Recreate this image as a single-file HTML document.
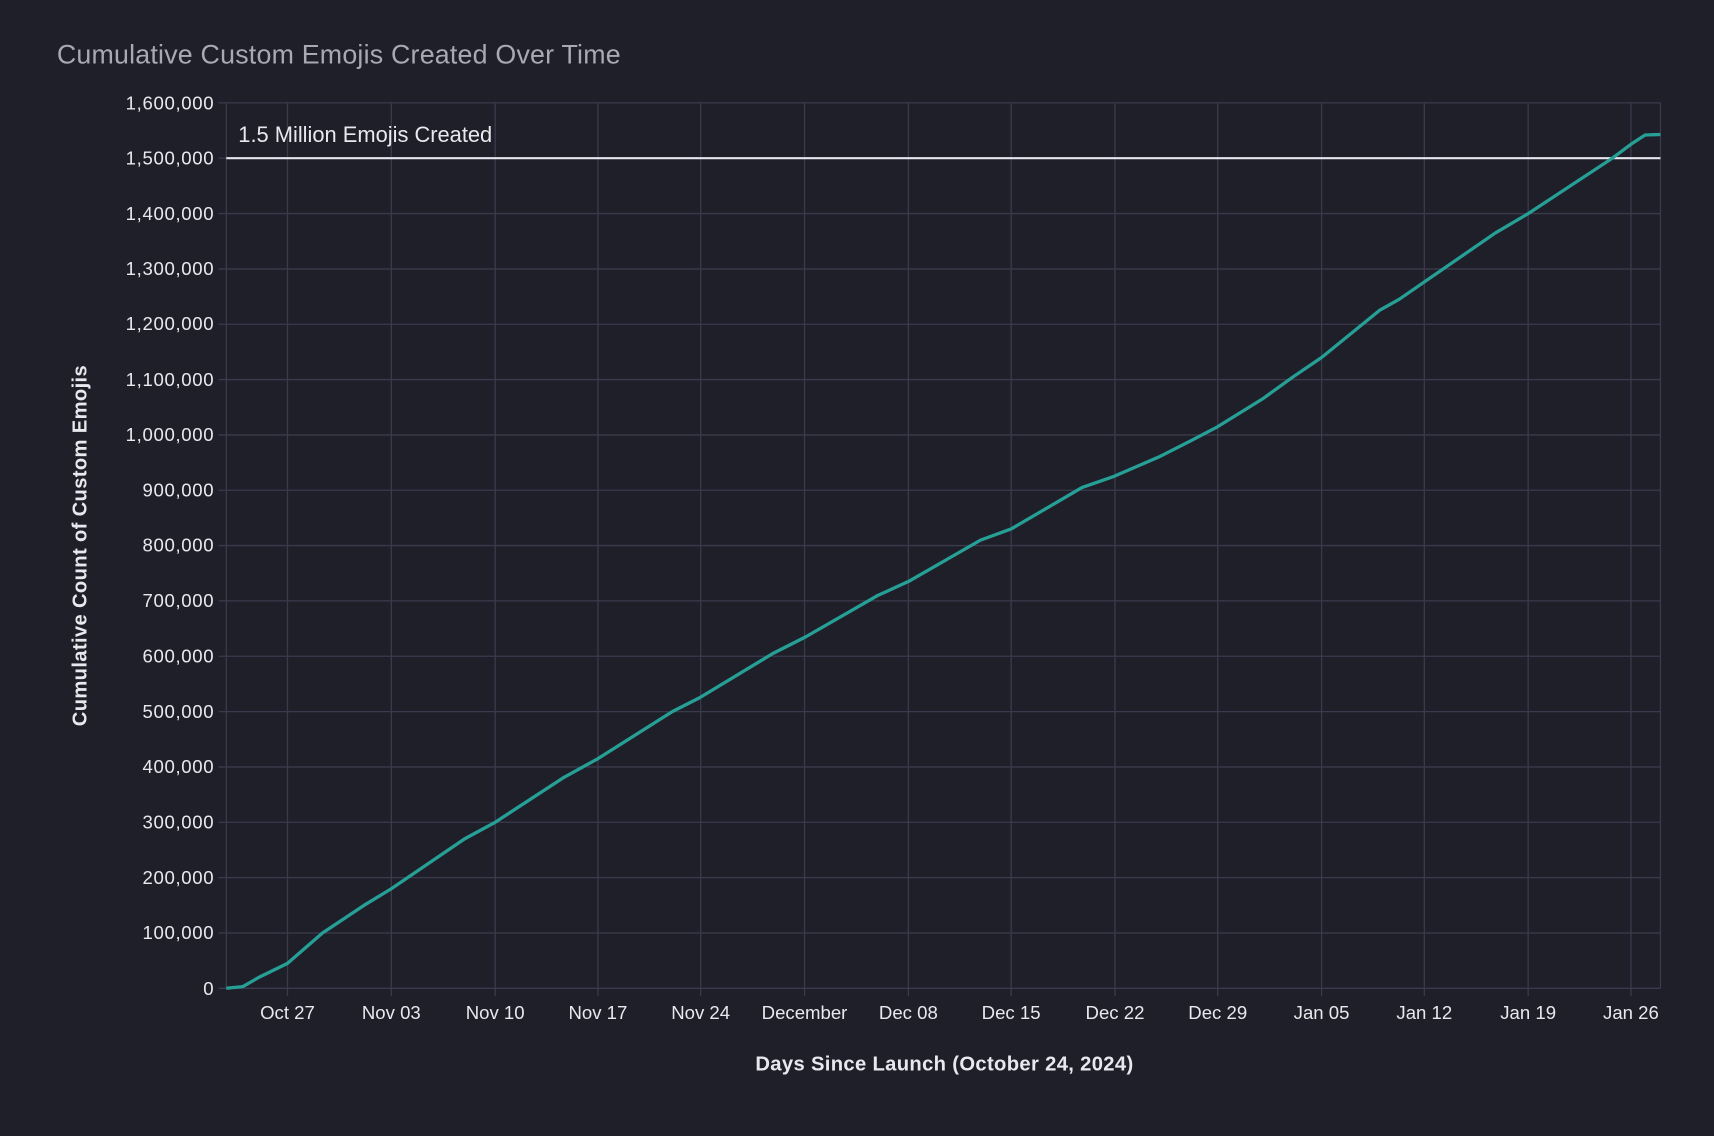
<!DOCTYPE html>
<html><head><meta charset="utf-8"><style>
html,body{margin:0;padding:0;background:#1f1f29;}
svg{display:block;}
text{font-family:"Liberation Sans",sans-serif;}
</style></head><body>
<svg width="1714" height="1136" viewBox="0 0 1568 1039" xmlns="http://www.w3.org/2000/svg">
<rect width="1568" height="1039" fill="#1f1f29"/>
<text x="52" y="58" font-size="24.5" fill="#a9a9b3" letter-spacing="0.2">Cumulative Custom Emojis Created Over Time</text>
<g stroke="#3a3a4c" stroke-width="1.2">
<line x1="200" x2="1519" y1="904" y2="904"/><line x1="200" x2="1519" y1="853.4" y2="853.4"/><line x1="200" x2="1519" y1="802.75" y2="802.75"/><line x1="200" x2="1519" y1="752.1" y2="752.1"/><line x1="200" x2="1519" y1="701.5" y2="701.5"/><line x1="200" x2="1519" y1="650.9" y2="650.9"/><line x1="200" x2="1519" y1="600.25" y2="600.25"/><line x1="200" x2="1519" y1="549.6" y2="549.6"/><line x1="200" x2="1519" y1="499" y2="499"/><line x1="200" x2="1519" y1="448.4" y2="448.4"/><line x1="200" x2="1519" y1="397.75" y2="397.75"/><line x1="200" x2="1519" y1="347.1" y2="347.1"/><line x1="200" x2="1519" y1="296.5" y2="296.5"/><line x1="200" x2="1519" y1="245.9" y2="245.9"/><line x1="200" x2="1519" y1="195.25" y2="195.25"/><line x1="200" x2="1519" y1="144.6" y2="144.6"/><line x1="200" x2="1519" y1="94" y2="94"/>
<line x1="207" x2="207" y1="94" y2="904"/><line x1="1519" x2="1519" y1="94" y2="904"/>
<line x1="263" x2="263" y1="94" y2="911"/><line x1="358" x2="358" y1="94" y2="911"/><line x1="453" x2="453" y1="94" y2="911"/><line x1="547" x2="547" y1="94" y2="911"/><line x1="641" x2="641" y1="94" y2="911"/><line x1="736" x2="736" y1="94" y2="911"/><line x1="831" x2="831" y1="94" y2="911"/><line x1="925" x2="925" y1="94" y2="911"/><line x1="1020" x2="1020" y1="94" y2="911"/><line x1="1114" x2="1114" y1="94" y2="911"/><line x1="1209" x2="1209" y1="94" y2="911"/><line x1="1303" x2="1303" y1="94" y2="911"/><line x1="1398" x2="1398" y1="94" y2="911"/><line x1="1492" x2="1492" y1="94" y2="911"/>
</g>
<g font-size="17" fill="#e8e8ee" text-anchor="end" letter-spacing="0.6">
<text x="196" y="910">0</text><text x="196" y="859">100,000</text><text x="196" y="808.5">200,000</text><text x="196" y="758">300,000</text><text x="196" y="707">400,000</text><text x="196" y="656.5">500,000</text><text x="196" y="606">600,000</text><text x="196" y="555">700,000</text><text x="196" y="504.5">800,000</text><text x="196" y="454">900,000</text><text x="196" y="403.5">1,000,000</text><text x="196" y="353">1,100,000</text><text x="196" y="302">1,200,000</text><text x="196" y="251.5">1,300,000</text><text x="196" y="201">1,400,000</text><text x="196" y="150.5">1,500,000</text><text x="196" y="100">1,600,000</text>
</g>
<g font-size="17" fill="#e8e8ee" text-anchor="middle">
<text x="263" y="932">Oct 27</text><text x="358" y="932">Nov 03</text><text x="453" y="932">Nov 10</text><text x="547" y="932">Nov 17</text><text x="641" y="932">Nov 24</text><text x="736" y="932">December</text><text x="831" y="932">Dec 08</text><text x="925" y="932">Dec 15</text><text x="1020" y="932">Dec 22</text><text x="1114" y="932">Dec 29</text><text x="1209" y="932">Jan 05</text><text x="1303" y="932">Jan 12</text><text x="1398" y="932">Jan 19</text><text x="1492" y="932">Jan 26</text>
</g>
<text x="864" y="979" font-size="18.5" font-weight="bold" fill="#e8e8ee" text-anchor="middle" letter-spacing="0.3">Days Since Launch (October 24, 2024)</text>
<text transform="translate(79,499) rotate(-90)" font-size="18.5" font-weight="bold" fill="#e8e8ee" text-anchor="middle" letter-spacing="0.3">Cumulative Count of Custom Emojis</text>
<line x1="207" x2="1519" y1="144.6" y2="144.6" stroke="#e6e6ee" stroke-width="2"/>
<text x="218" y="130" font-size="20" fill="#e8e8ee">1.5 Million Emojis Created</text>
<polyline fill="none" stroke="#26a096" stroke-width="3" stroke-linejoin="round" points="207,904 222,902.5 237,893.9 263,881.2 295,853.4 333,828.1 358,812.9 425,767.3 453,752.1 515,711.6 547,693.9 615,650.9 640,638.2 707,597.7 737,582.5 803,544.6 831,531.9 897,494 925,483.8 990,445.8 1019,435.7 1060,418 1090,402.8 1114,390.2 1155,364.8 1183,344.6 1209,326.9 1262,283.8 1280,273.7 1302,258.5 1368,213 1398,195.3 1475,144.6 1492,131.9 1505,123.4 1519,122.9"/>
</svg>
</body></html>
